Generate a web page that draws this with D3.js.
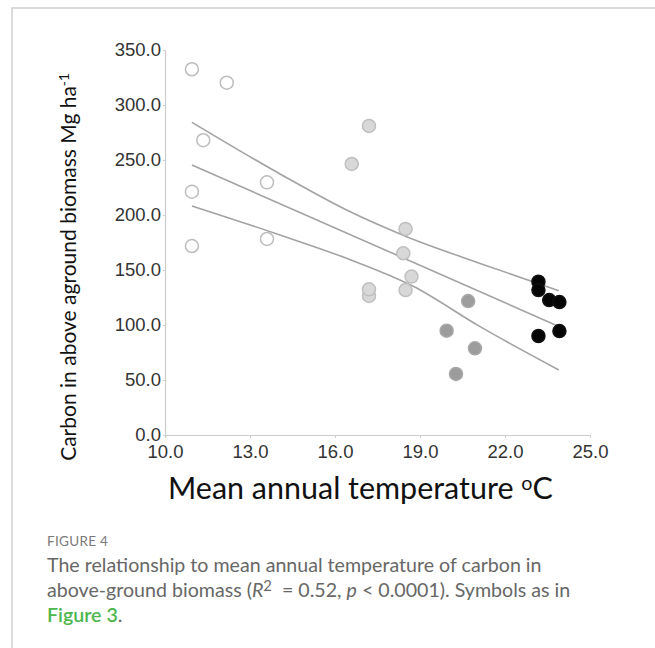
<!DOCTYPE html>
<html>
<head>
<meta charset="utf-8">
<script src="https://cdn.jsdelivr.net/npm/d3@7"></script>
<style>
  body { margin: 0; background: #fff; }
  svg { display: block; }
</style>
</head>
<body>
<svg id="chart" width="655" height="648"></svg>
<script>
// sites, one group per symbol
const tempOpen = [10.95, 12.18, 11.35, 13.6, 10.95, 10.95, 13.6];
const carbonOpen = [332.5, 320.3, 268, 229.7, 221.2, 171.8, 178.2];

const tempLight = [17.2, 16.59, 18.49, 18.41, 18.7, 17.2, 17.2, 18.49];
const carbonLight = [281, 246.4, 187.3, 165.2, 144, 126.4, 132.4, 131.8];

const tempDark = [20.7, 19.94, 20.94, 20.27];
const carbonDark = [121.8, 94.8, 78.8, 55.5];

const tempBlack = [23.18, 23.18, 23.56, 23.92, 23.92, 23.18];
const carbonBlack = [139.4, 131.8, 122.7, 120.9, 94.5, 90];

// fitted line and confidence band
const fitX = [10.95, 23.92];
const fitY = [245.5, 98.5];
const upperX = [10.95, 14.06, 16.41, 18.53, 21.12, 23.9];
const upperY = [284.3, 237.3, 204.5, 180.3, 156, 131.2];
const lowerX = [10.95, 14.06, 16.41, 18.76, 21.12, 23.9];
const lowerY = [208.2, 181.8, 160.6, 135.2, 98.5, 59.1];

// axis ticks
const xTicks = [10, 13, 16, 19, 22, 25];
const yTicks = [0, 50, 100, 150, 200, 250, 300, 350];

const svg = d3.select('#chart');

// page frame
svg.append('rect')
  .attr('x', 12).attr('y', 8)
  .attr('width', 700).attr('height', 700)
  .attr('fill', 'none')
  .attr('stroke', '#cfcfcf')
  .attr('stroke-width', 1.5);

const x = d3.scaleLinear().domain([10, 25]).range([165, 590]);
const y = d3.scaleLinear().domain([0, 350]).range([435, 50]);

// axes
const xAxis = svg.append('g')
  .attr('transform', 'translate(0,435)')
  .call(d3.axisBottom(x).tickValues(xTicks).tickFormat(d3.format('.1f'))
    .tickSizeInner(3).tickSizeOuter(0).tickPadding(7));

const yAxis = svg.append('g')
  .attr('transform', 'translate(165,0)')
  .call(d3.axisLeft(y).tickValues(yTicks).tickFormat(d3.format('.1f'))
    .tickSizeInner(2).tickSizeOuter(0).tickPadding(2));

[xAxis, yAxis].forEach(function (g) {
  g.select('.domain').attr('stroke', '#cccccc').attr('stroke-width', 1.2);
  g.selectAll('.tick line').attr('stroke', '#cccccc');
  g.selectAll('.tick text')
    .attr('fill', '#333')
    .style('font-family', '"Liberation Sans", Arial, sans-serif')
    .style('font-size', '18.5px');
});

// regression line + band
const line = d3.line()
  .x(d => x(d[0]))
  .y(d => y(d[1]))
  .curve(d3.curveMonotoneX);

[[fitX, fitY], [upperX, upperY], [lowerX, lowerY]].forEach(function (s) {
  svg.append('path')
    .datum(d3.zip(s[0], s[1]))
    .attr('d', line)
    .attr('fill', 'none')
    .attr('stroke', '#a3a3a3')
    .attr('stroke-width', 1.6);
});

// points
const groups = [
  { t: tempOpen, c: carbonOpen, fill: '#ffffff', stroke: '#bdbdbd' },
  { t: tempLight, c: carbonLight, fill: '#d8d8d8', stroke: '#bfbfbf' },
  { t: tempDark, c: carbonDark, fill: '#9c9c9c', stroke: '#a8a8a8' },
  { t: tempBlack, c: carbonBlack, fill: '#050505', stroke: '#111111' },
];

groups.forEach(function (grp) {
  svg.append('g')
    .selectAll('circle')
    .data(d3.zip(grp.t, grp.c))
    .join('circle')
    .attr('cx', d => x(d[0]))
    .attr('cy', d => y(d[1]))
    .attr('r', 6.5)
    .attr('fill', grp.fill)
    .attr('stroke', grp.stroke)
    .attr('stroke-width', 1.5);
});

// scale a text's font so that it spans a given width
function fitText(sel, target, base) {
  const w = sel.node().getBBox().width;
  sel.style('font-size', (base * target / w) + 'px');
}

// y axis title
const yTitle = svg.append('text')
  .attr('transform', 'translate(76,267) rotate(-90)')
  .attr('text-anchor', 'middle')
  .attr('fill', '#111')
  .style('font-family', 'Lato, "Open Sans", sans-serif')
  .style('font-size', '20px');
yTitle.append('tspan').text('Carbon in above aground biomass Mg ha');
yTitle.append('tspan').attr('dy', '-0.5em').style('font-size', '0.65em').text('-1');
fitText(yTitle, 388, 20);

// x axis title
const xTitle = svg.append('text')
  .attr('x', 168).attr('y', 499)
  .attr('fill', '#111')
  .style('font-family', 'Lato, "Open Sans", sans-serif')
  .style('font-size', '26px');
xTitle.append('tspan').text('Mean annual temperature ');
xTitle.append('tspan').attr('dy', '-0.45em').style('font-size', '0.65em').text('o');
xTitle.append('tspan').attr('dy', '0.29em').text('C');
fitText(xTitle, 385, 26);

// caption
const capFont = 'Lato, "Noto Sans", sans-serif';
svg.append('text')
  .attr('x', 47).attr('y', 546)
  .attr('fill', '#7a7a7a')
  .style('font-family', capFont)
  .style('font-size', '13.5px')
  .style('letter-spacing', '0.3px')
  .text('FIGURE 4');

const cap1 = svg.append('text')
  .attr('x', 47).attr('y', 572)
  .attr('fill', '#676767')
  .style('font-family', capFont)
  .style('font-size', '18px')
  .text('The relationship to mean annual temperature of carbon in');
fitText(cap1, 495, 18);
const capSize = cap1.style('font-size');

const cap2 = svg.append('text')
  .attr('x', 47).attr('y', 597)
  .attr('fill', '#676767')
  .style('font-family', capFont)
  .style('font-size', capSize);
cap2.append('tspan').text('above-ground biomass (');
cap2.append('tspan').style('font-style', 'italic').text('R');
cap2.append('tspan').attr('dy', '-0.4em').style('font-size', '0.75em').text('2');
cap2.append('tspan').attr('dy', '0.3em').text('\u00a0 = 0.52, ');
cap2.append('tspan').style('font-style', 'italic').text('p');
cap2.append('tspan').text(' < 0.0001). Symbols as in');

const cap3 = svg.append('text')
  .attr('x', 47).attr('y', 622)
  .style('font-family', capFont)
  .style('font-size', capSize);
cap3.append('tspan').attr('fill', '#4db64d').style('font-weight', 600).text('Figure 3');
cap3.append('tspan').attr('fill', '#676767').text('.');
</script>
</body>
</html>
